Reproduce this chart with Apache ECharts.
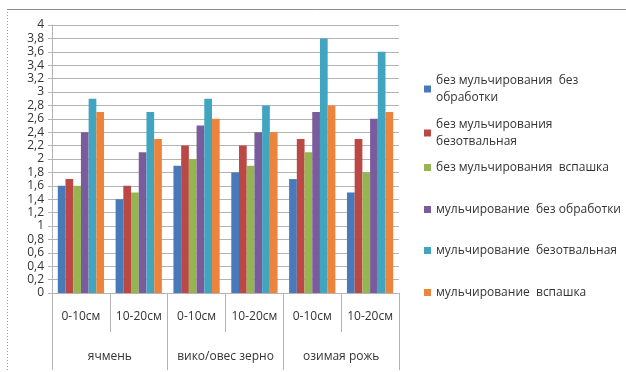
<!DOCTYPE html>
<html>
<head>
<meta charset="utf-8">
<script src="https://cdn.jsdelivr.net/npm/echarts@6/dist/echarts.min.js"></script>
<style>
  html, body { margin: 0; padding: 0; background: #ffffff; }
  #chart { width: 626px; height: 372px; }
</style>
</head>
<body>
<div id="chart"></div>
<script>
// Soil layers (inner axis level) and crops (outer axis level)
const layers = ['0-10см', '10-20см', '0-10см', '10-20см', '0-10см', '10-20см'];
const crops = ['ячмень', 'вико/овес зерно', 'озимая рожь'];

const seriesNames = [
  'без мульчирования  без\nобработки',
  'без мульчирования\nбезотвальная',
  'без мульчирования  вспашка',
  'мульчирование  без обработки',
  'мульчирование  безотвальная',
  'мульчирование  вспашка'
];

// Values per treatment across the six layer/crop cells
const noMulchNoTill   = [1.6, 1.4, 1.9, 1.8, 1.7, 1.5];
const noMulchNoPlow   = [1.7, 1.6, 2.2, 2.2, 2.3, 2.3];
const noMulchPlow     = [1.6, 1.5, 2.0, 1.9, 2.1, 1.8];
const mulchNoTill     = [2.4, 2.1, 2.5, 2.4, 2.7, 2.6];
const mulchNoPlow     = [2.9, 2.7, 2.9, 2.8, 3.8, 3.6];
const mulchPlow       = [2.7, 2.3, 2.6, 2.4, 2.8, 2.7];

const yTicks = { min: 0, max: 4, step: 0.2 };

const values = [noMulchNoTill, noMulchNoPlow, noMulchPlow, mulchNoTill, mulchNoPlow, mulchPlow];
const colors = ['#4879b8', '#bb4845', '#94b550', '#7a5c9d', '#42a5c0', '#ec853b'];

const textColor = '#333333';
const lineColor = '#b3b3b3';
const fontFamily = '"Open Sans", "Liberation Sans", sans-serif';

const chart = echarts.init(document.getElementById('chart'), null, { renderer: 'canvas' });

// One legend block per entry so each sits in its own row
const legendTops = [67, 111, 154, 196, 237, 279];
const legends = seriesNames.map((name, i) => ({
  data: [name],
  orient: 'vertical',
  left: 419,
  top: legendTops[i],
  itemWidth: 7,
  itemHeight: 7,
  icon: 'rect',
  textStyle: { color: textColor, fontSize: 12, fontFamily: fontFamily, lineHeight: 17 },
  selectedMode: false
}));

chart.setOption({
  backgroundColor: '#ffffff',
  animation: false,
  color: colors,
  graphic: [
    { type: 'line', shape: { x1: 7, y1: 9.5, x2: 626, y2: 9.5 }, style: { stroke: '#8c8c8c', lineWidth: 1 } },
    { type: 'line', shape: { x1: 7.5, y1: 9, x2: 7.5, y2: 372 }, style: { stroke: '#9a9a9a', lineWidth: 1, lineDash: [1, 2] } }
  ],
  legend: legends,
  grid: { left: 52, right: 227, top: 25, bottom: 79, containLabel: false },
  xAxis: [
    {
      type: 'category',
      data: layers,
      position: 'bottom',
      axisLine: { show: true, lineStyle: { color: lineColor } },
      axisTick: { show: true, interval: 0, length: 39, lineStyle: { color: lineColor } },
      axisLabel: { interval: 0, margin: 18, color: textColor, fontSize: 12, fontFamily: fontFamily }
    },
    {
      type: 'category',
      data: crops,
      position: 'bottom',
      axisLine: { show: false },
      axisTick: { show: true, interval: 0, length: 77, lineStyle: { color: lineColor } },
      axisLabel: { interval: 0, margin: 58, color: textColor, fontSize: 12, fontFamily: fontFamily },
      splitLine: { show: false }
    }
  ],
  yAxis: {
    type: 'value',
    min: yTicks.min,
    max: yTicks.max,
    interval: yTicks.step,
    axisLine: { show: true, lineStyle: { color: lineColor } },
    axisTick: { show: true, length: 4, lineStyle: { color: lineColor } },
    axisLabel: {
      margin: 8,
      color: textColor,
      fontSize: 12,
      fontFamily: fontFamily,
      formatter: v => String(Math.round(v * 10) / 10).replace('.', ',')
    },
    splitLine: { show: true, lineStyle: { color: lineColor, width: 1 } }
  },
  series: values.map((arr, i) => ({
    name: seriesNames[i],
    type: 'bar',
    xAxisIndex: 0,
    data: arr,
    barGap: '0%',
    barCategoryGap: '20%',
    itemStyle: { color: colors[i] }
  }))
});
</script>
</body>
</html>
